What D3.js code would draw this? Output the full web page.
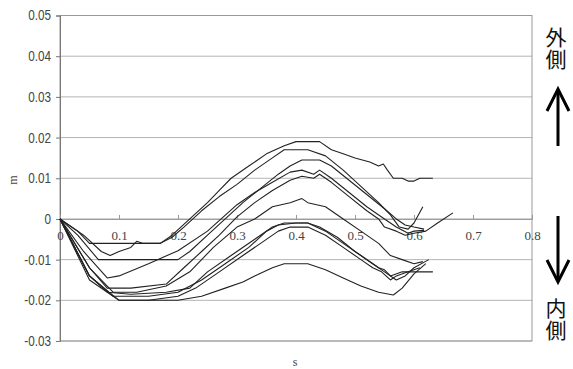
<!DOCTYPE html>
<html><head><meta charset="utf-8">
<script src="https://cdn.jsdelivr.net/npm/d3@7"></script>
<style>body{margin:0;background:#fff}svg{display:block}</style>
</head><body>
<script>
// ---- data ----
const xTicks = [0, 0.1, 0.2, 0.3, 0.4, 0.5, 0.6, 0.7, 0.8];
const xTickLabels = ["0", "0.1", "0.2", "0.3", "0.4", "0.5", "0.6", "0.7", "0.8"];
const yTicks = [0.05, 0.04, 0.03, 0.02, 0.01, 0, -0.01, -0.02, -0.03];
const yTickLabels = ["0.05", "0.04", "0.03", "0.02", "0.01", "0", "-0.01", "-0.02", "-0.03"];
const xLabel = "s";
const yLabel = "m";
const outerLabel = "外側";
const innerLabel = "内側";

// each series: [s, m] pairs
const s1 = [[0,0],[0.03,-0.003],[0.05,-0.006],[0.17,-0.006],[0.19,-0.004],[0.22,0],[0.25,0.004],[0.27,0.007],[0.29,0.010],[0.32,0.013],[0.35,0.016],[0.38,0.018],[0.40,0.019],[0.44,0.019],[0.46,0.017],[0.48,0.016],[0.50,0.015],[0.525,0.014],[0.54,0.013],[0.548,0.0135],[0.555,0.012],[0.565,0.010],[0.58,0.010],[0.59,0.0093],[0.60,0.0093],[0.61,0.010],[0.632,0.010]];
const s2 = [[0,0],[0.04,-0.004],[0.07,-0.008],[0.085,-0.009],[0.10,-0.008],[0.12,-0.007],[0.13,-0.0055],[0.14,-0.006],[0.17,-0.006],[0.19,-0.0045],[0.21,-0.002],[0.24,0.002],[0.27,0.0055],[0.30,0.0085],[0.33,0.012],[0.36,0.015],[0.38,0.017],[0.42,0.017],[0.45,0.0155],[0.48,0.012],[0.51,0.008],[0.54,0.004],[0.56,0.001],[0.575,-0.002],[0.59,-0.0025],[0.60,-0.001],[0.615,0.003]];
const s3 = [[0,0],[0.03,-0.004],[0.065,-0.010],[0.20,-0.010],[0.22,-0.008],[0.25,-0.004],[0.28,0],[0.31,0.004],[0.34,0.0075],[0.37,0.011],[0.39,0.013],[0.41,0.0145],[0.44,0.0145],[0.46,0.013],[0.49,0.0095],[0.52,0.006],[0.55,0.0025],[0.57,0],[0.585,-0.0015],[0.60,-0.002],[0.617,-0.0025]];
const s4 = [[0,0],[0.04,-0.008],[0.08,-0.0145],[0.10,-0.014],[0.15,-0.011],[0.20,-0.0078],[0.25,-0.003],[0.30,0.0035],[0.33,0.0065],[0.36,0.009],[0.39,0.0115],[0.41,0.012],[0.43,0.011],[0.44,0.012],[0.46,0.010],[0.49,0.0065],[0.52,0.003],[0.55,0],[0.57,-0.002],[0.59,-0.0035],[0.60,-0.003],[0.617,-0.0028]];
const s5 = [[0,0],[0.05,-0.012],[0.08,-0.017],[0.12,-0.017],[0.18,-0.016],[0.21,-0.012],[0.24,-0.008],[0.27,-0.004],[0.30,0.0005],[0.33,0.004],[0.36,0.007],[0.39,0.0095],[0.41,0.0105],[0.43,0.010],[0.44,0.011],[0.46,0.009],[0.49,0.0055],[0.52,0.002],[0.54,0],[0.55,-0.002],[0.57,-0.003],[0.585,-0.004],[0.60,-0.0035],[0.62,-0.003],[0.64,-0.001],[0.666,0.0015]];
const s6 = [[0,0],[0.05,-0.012],[0.09,-0.018],[0.13,-0.018],[0.18,-0.0165],[0.22,-0.013],[0.26,-0.007],[0.30,-0.002],[0.33,0],[0.36,0.003],[0.39,0.004],[0.41,0.005],[0.42,0.004],[0.45,0.003],[0.48,0],[0.51,-0.003],[0.54,-0.006],[0.56,-0.009],[0.58,-0.010],[0.60,-0.011],[0.615,-0.0105]];
const s7 = [[0,0],[0.05,-0.014],[0.09,-0.019],[0.15,-0.019],[0.20,-0.018],[0.24,-0.015],[0.28,-0.011],[0.32,-0.007],[0.35,-0.003],[0.37,-0.0015],[0.40,-0.001],[0.42,-0.001],[0.44,-0.002],[0.47,-0.0045],[0.50,-0.008],[0.53,-0.011],[0.55,-0.013],[0.57,-0.015],[0.585,-0.014],[0.60,-0.012],[0.625,-0.010]];
const s8 = [[0,0],[0.05,-0.014],[0.08,-0.018],[0.12,-0.0185],[0.18,-0.018],[0.22,-0.017],[0.25,-0.013],[0.29,-0.009],[0.33,-0.005],[0.36,-0.002],[0.38,-0.001],[0.42,-0.001],[0.45,-0.003],[0.48,-0.006],[0.51,-0.009],[0.54,-0.012],[0.55,-0.0125],[0.56,-0.014],[0.58,-0.013],[0.60,-0.013],[0.632,-0.013]];
const s9 = [[0,0],[0.05,-0.015],[0.10,-0.020],[0.15,-0.020],[0.20,-0.019],[0.23,-0.017],[0.27,-0.013],[0.31,-0.009],[0.34,-0.006],[0.37,-0.003],[0.39,-0.002],[0.42,-0.002],[0.45,-0.004],[0.48,-0.007],[0.51,-0.010],[0.53,-0.012],[0.545,-0.013],[0.56,-0.015],[0.57,-0.014],[0.59,-0.013],[0.61,-0.012]];
const s10 = [[0,0],[0.05,-0.014],[0.10,-0.020],[0.20,-0.020],[0.24,-0.019],[0.28,-0.017],[0.31,-0.0155],[0.33,-0.014],[0.36,-0.012],[0.38,-0.011],[0.42,-0.011],[0.45,-0.0125],[0.48,-0.0145],[0.51,-0.0165],[0.54,-0.018],[0.565,-0.0187],[0.58,-0.017],[0.60,-0.0135],[0.62,-0.011]];
const seriesList = [s1, s2, s3, s4, s5, s6, s7, s8, s9, s10];

// ---- drawing ----
const W = 573, H = 369;
const svg = d3.select("body").append("svg").attr("width", W).attr("height", H);
const x = d3.scaleLinear().domain([0, 0.8]).range([60, 532]);
const y = d3.scaleLinear().domain([-0.03, 0.05]).range([341, 15.5]);

// gridlines
svg.append("g").selectAll("line").data(yTicks).join("line")
  .attr("x1", x(0)).attr("x2", x(0.8))
  .attr("y1", d => y(d)).attr("y2", d => y(d))
  .attr("stroke", "#b4b4b4").attr("stroke-width", 1);

// plot frame
svg.append("rect").attr("x", x(0)).attr("y", y(0.05))
  .attr("width", x(0.8) - x(0)).attr("height", y(-0.03) - y(0.05))
  .attr("fill", "none").attr("stroke", "#999").attr("stroke-width", 1);

// y axis
const yAxis = d3.axisLeft(y).tickValues(yTicks).tickSize(4)
  .tickFormat((d, i) => yTickLabels[i]);
const gy = svg.append("g").attr("transform", `translate(${x(0)},0)`).call(yAxis);
gy.select(".domain").attr("stroke", "#777");
gy.selectAll(".tick line").attr("stroke", "#777");
const sx = 0.84;
gy.selectAll(".tick text").attr("x", -9 / sx).attr("transform", `scale(${sx},1)`)
  .attr("font-family", "'Liberation Sans',Arial,sans-serif")
  .attr("font-size", 14).attr("fill", "#444");

// x axis along y=0
const xAxis = d3.axisTop(x).tickValues(xTicks).tickSize(4)
  .tickFormat((d, i) => xTickLabels[i]);
const gx = svg.append("g").attr("transform", `translate(0,${y(0)})`).call(xAxis);
gx.select(".domain").attr("stroke", "#999");
gx.selectAll(".tick line").attr("stroke", "#999");
gx.selectAll(".tick text").attr("y", 21).attr("dy", 0)
  .attr("font-family", "'Liberation Serif','Times New Roman',serif")
  .attr("font-size", 13).attr("fill", "#444");

// series lines
const line = d3.line().x(d => x(d[0])).y(d => y(d[1]));
svg.append("g").selectAll("path").data(seriesList).join("path")
  .attr("d", line).attr("fill", "none")
  .attr("stroke", "#222").attr("stroke-width", 1.1).attr("stroke-linejoin", "round");

// axis titles
svg.append("text").attr("transform", "translate(17,180) rotate(-90)")
  .attr("text-anchor", "middle").attr("font-family", "'Liberation Serif',serif")
  .attr("font-size", 12).attr("fill", "#444").text(yLabel);
svg.append("text").attr("x", 295).attr("y", 366)
  .attr("text-anchor", "middle").attr("font-family", "'Liberation Serif',serif")
  .attr("font-size", 12).attr("fill", "#444").text(xLabel);

// side labels (vertical text) and arrows
const cjk = "'Noto Sans CJK JP','Noto Sans CJK SC',sans-serif";
function vText(str, cx, top) {
  svg.append("text").attr("x", cx).attr("y", top)
    .style("writing-mode", "vertical-rl")
    .attr("text-anchor", "start")
    .attr("font-family", cjk).attr("font-size", 21)
    .attr("letter-spacing", 1)
    .attr("fill", "#111").text(str);
}
vText(outerLabel, 556, 27);
vText(innerLabel, 556, 298);

function arrow(x0, yTail, yHead) {
  const dir = yHead < yTail ? 1 : -1;
  svg.append("line").attr("x1", x0).attr("x2", x0).attr("y1", yTail).attr("y2", yHead + dir * 1)
    .attr("stroke", "#000").attr("stroke-width", 3);
  svg.append("path")
    .attr("d", `M${x0 - 11},${yHead + dir * 22} L${x0},${yHead} L${x0 + 11},${yHead + dir * 22}`)
    .attr("fill", "none").attr("stroke", "#000").attr("stroke-width", 3).attr("stroke-linejoin", "miter");
}
arrow(558, 146, 89);
arrow(558, 216, 282);
</script>
</body></html>
